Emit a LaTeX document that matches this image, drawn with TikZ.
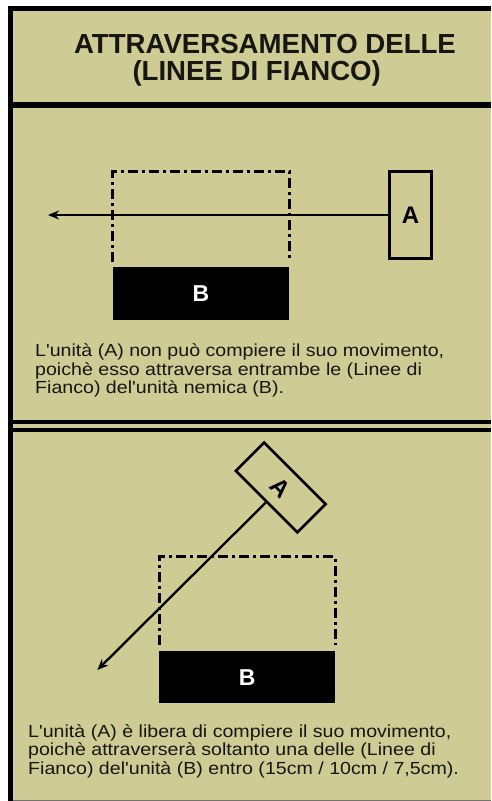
\documentclass[tikz,border=0pt]{standalone}
\usepackage{fontspec}
\setmainfont{Liberation Sans}
\newfontfamily\bodyfont{Liberation Sans}[FakeStretch=1.12]
\usetikzlibrary{arrows.meta}
\definecolor{khaki}{RGB}{206,204,148}
\definecolor{ink}{RGB}{22,22,18}
\begin{document}
\begin{tikzpicture}[x=1pt,y=-1pt,
  flankline/.style={line width=3pt, dash pattern=on 10pt off 4pt on 3pt off 4pt},
  unitbox/.style={draw=black, line width=2.6pt, inner sep=0pt, font=\bfseries\fontsize{24}{24}\selectfont},
  enemybox/.style={fill=black, draw=none, text=white, inner sep=0pt, font=\bfseries\fontsize{23}{23}\selectfont},
  unitlabel/.style={inner sep=0pt, font=\bfseries\fontsize{24}{24}\selectfont},
  move/.style={line width=2.3pt, -{Stealth[length=11pt,width=9pt]}},
  caption/.style={anchor=base west, inner sep=0pt, text=ink, font=\bodyfont\fontsize{17.5}{18.5}\selectfont},
  titletext/.style={anchor=base, inner sep=0pt, text=ink, font=\bfseries\fontsize{27.6}{28}\selectfont}]
\useasboundingbox (0,0) rectangle (491,801);
% panel
\fill[khaki] (13,11) rectangle (491,801);
\fill[black] (8,6) rectangle (491,11);
\fill[black] (8,6) rectangle (13,801);
\fill[black] (13,101.5) rectangle (491,107.5);
\fill[black] (13,420) rectangle (491,424);
\fill[black] (13,427.5) rectangle (491,431.5);
\draw[line width=1pt, black!55] (13,800.5) -- (491,800.5);
% title
\node[titletext] (t1) at (265,53.5) {ATTRAVERSAMENTO DELLE};
\node[titletext] (t2) at (256.7,80) {(LINEE DI FIANCO)};
% section 1
\node[enemybox, minimum width=176.6pt, minimum height=53.3pt] (B1) at (201,293.3) {B};
\draw[flankline] (112.7,261.7) -- (112.7,171.7) -- (289.3,171.7) -- (289.3,261.7);
\node[unitbox, minimum width=42.4pt, minimum height=86.6pt] (A1) at (410.5,215) {A};
\coordinate (end1) at (48,215);
\draw[move] (A1.west) -- (end1);
\node[caption] (c11) at (35,356.7) {L'unità (A) non può compiere il suo movimento,};
\node[caption] (c12) at (35,375.2) {poichè esso attraversa entrambe le (Linee di};
\node[caption] (c13) at (35,393.7) {Fianco) del'unità nemica (B).};
% section 2
\node[enemybox, minimum width=175.7pt, minimum height=52.3pt] (B2) at (247.2,677.2) {B};
\draw[flankline] (159.3,645) -- (159.3,556.7) -- (335,556.7) -- (335,645);
\node[unitbox, minimum width=40pt, minimum height=87pt, rotate=45] (A2) at (280.8,487.5) {};
\node[unitlabel, rotate=-45] (A2l) at (A2.center) {A};
\coordinate (end2) at (97.3,670);
\draw[move] (A2.west) -- (end2);
\node[caption] (c21) at (28,737.3) {L'unità (A) è libera di compiere il suo movimento,};
\node[caption] (c22) at (28,755.7) {poichè attraverserà soltanto una delle (Linee di};
\node[caption] (c23) at (28,774.2) {Fianco) del'unità (B) entro (15cm / 10cm / 7,5cm).};
\end{tikzpicture}
\end{document}
